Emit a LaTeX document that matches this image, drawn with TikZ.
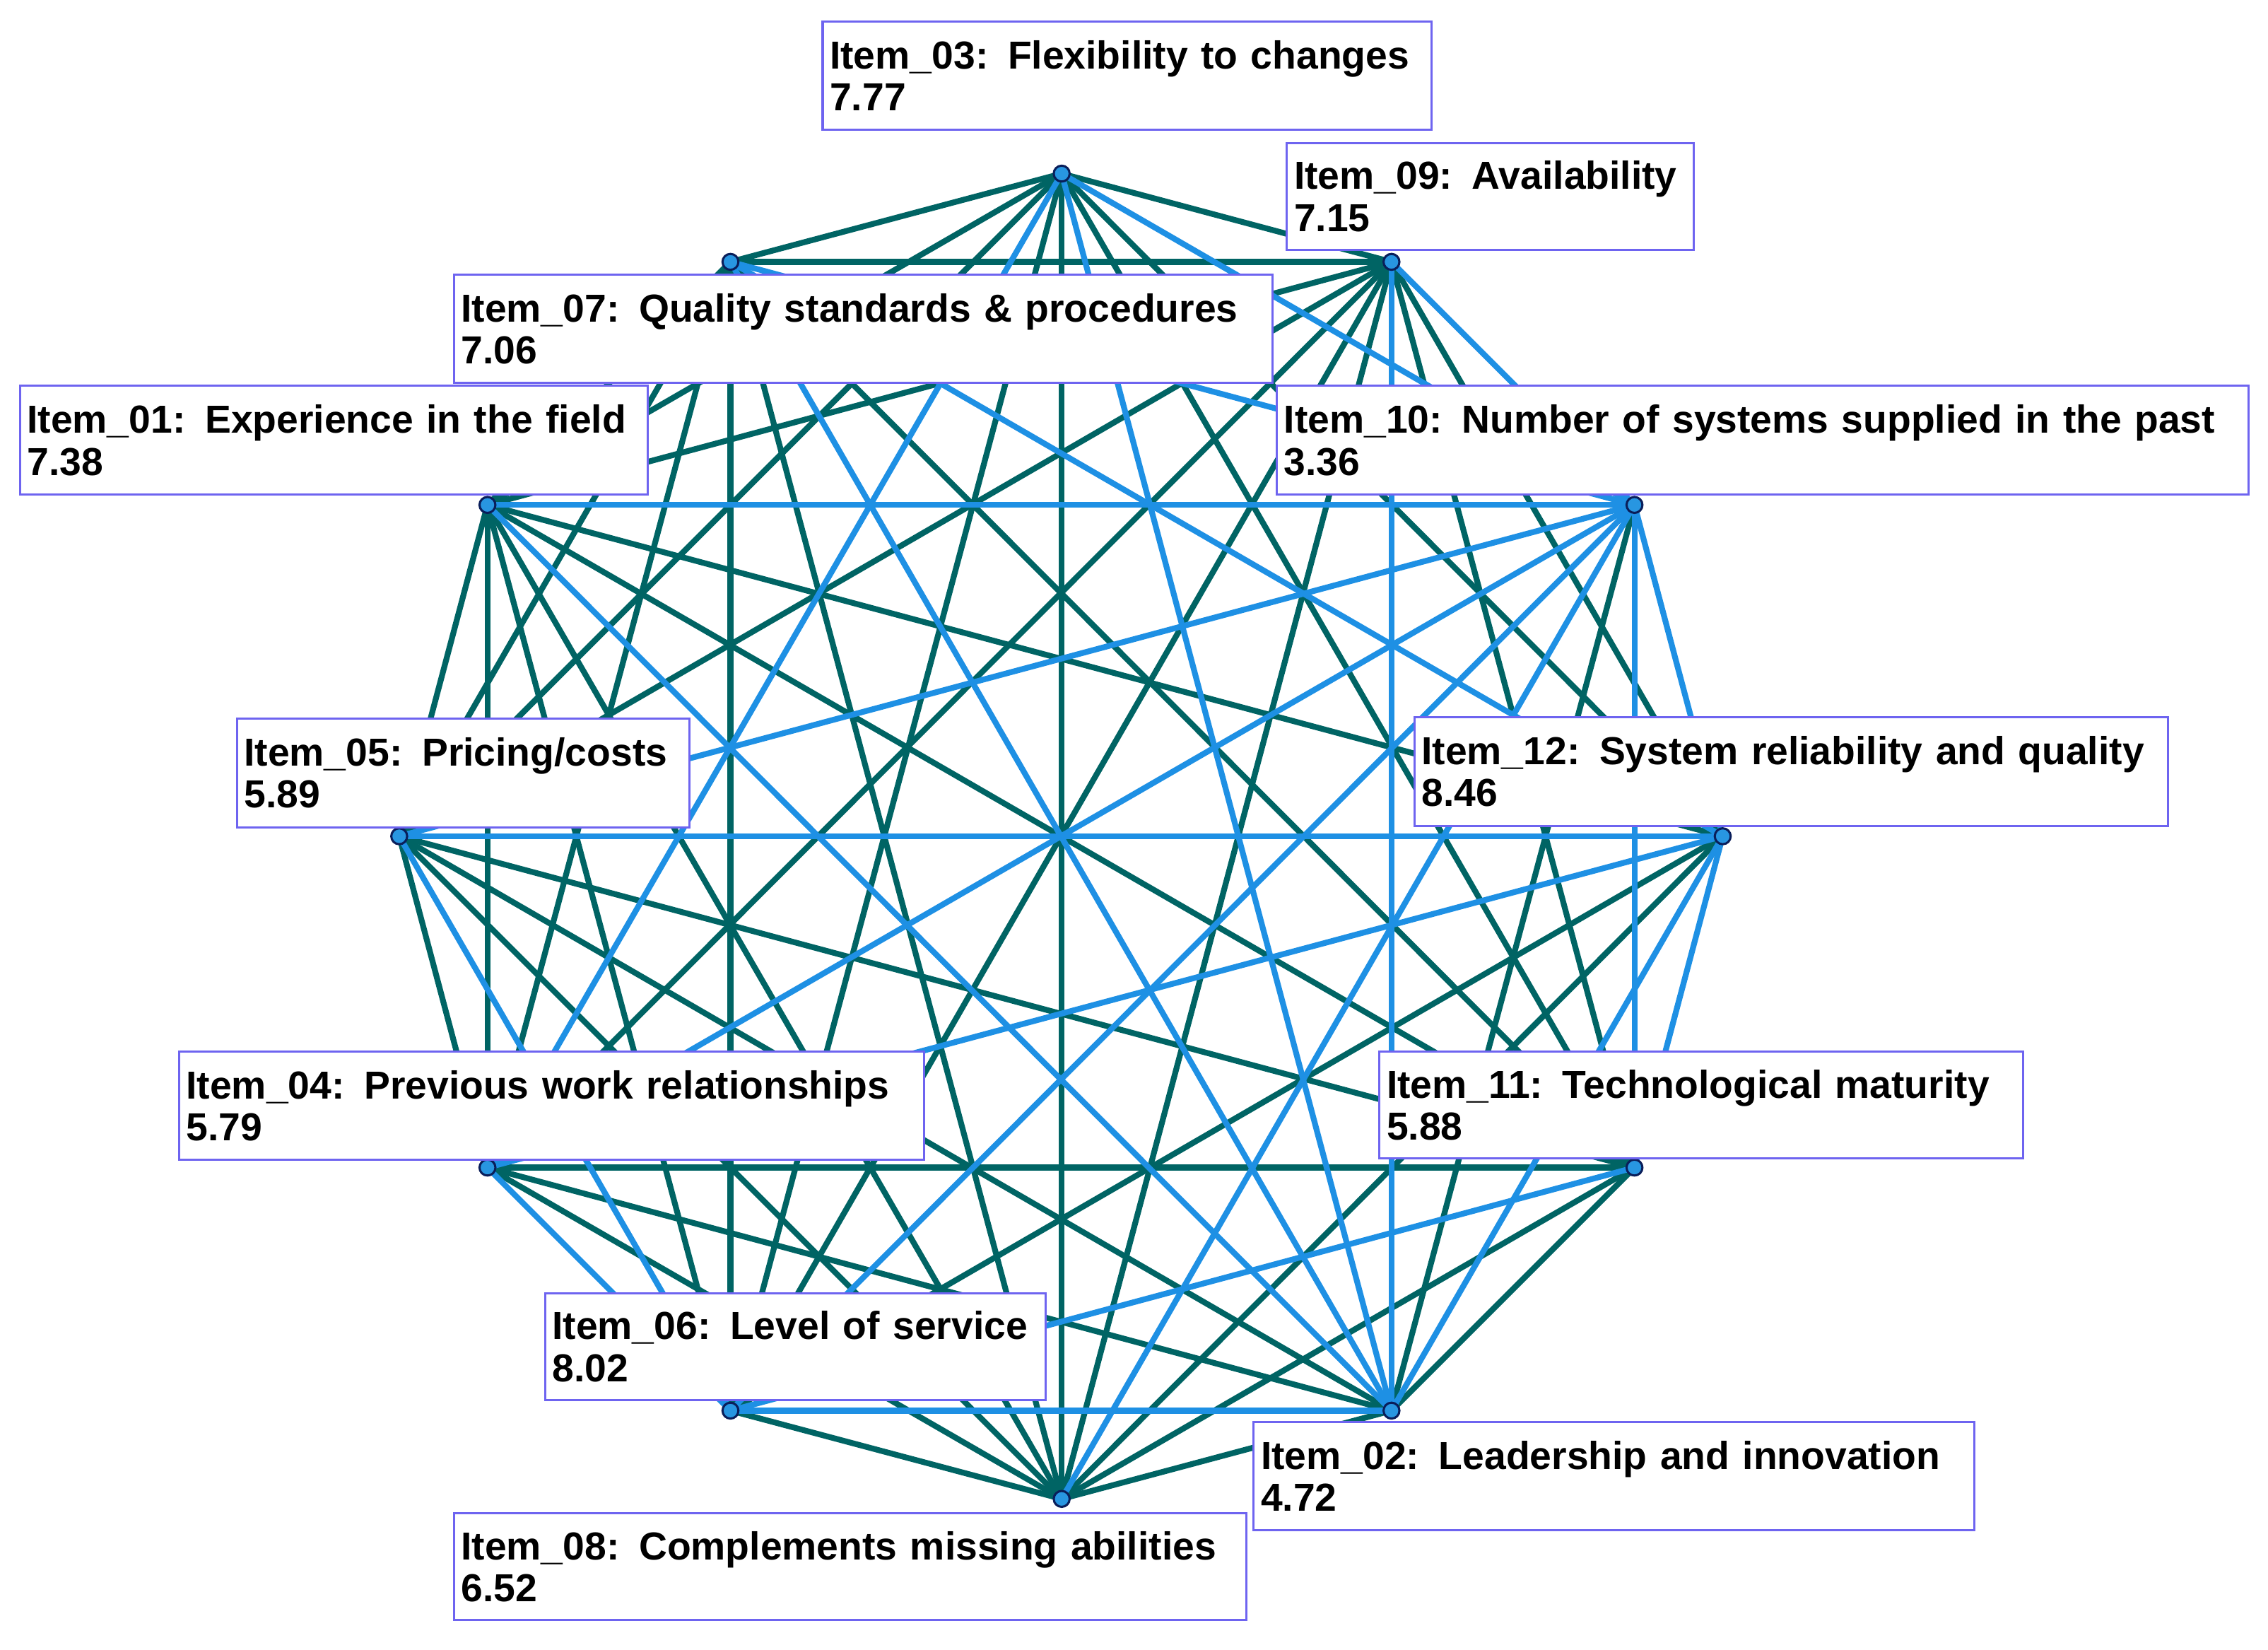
\documentclass[tikz,border=0pt]{standalone}
\usepackage{fontspec}
\setmainfont{Liberation Sans}
\begin{document}
\begin{tikzpicture}[x=1pt,y=-1pt,
  dk/.style={draw={rgb,255:red,0;green,100;blue,100},line width=4pt},
  lt/.style={draw={rgb,255:red,30;green,144;blue,228},line width=4pt},
  dot/.style={circle,fill={rgb,255:red,40;green,150;blue,225},draw={rgb,255:red,10;green,30;blue,90},line width=1.5pt,minimum size=11pt,inner sep=0pt},
  lab/.style={draw={rgb,255:red,110;green,100;blue,240},line width=1.5pt,fill=white,anchor=north west,align=left,inner xsep=5pt,inner ysep=0pt,font=\fontsize{27}{29}\selectfont\bfseries}]
\useasboundingbox (0,0) rectangle (1568,1140);
\fill[white] (0,0) rectangle (1568,1140);
% nodes: 0:03 1:09 2:10 3:12 4:11 5:02 6:08 7:06 8:04 9:05 10:01 11:07
\foreach \i/\x/\y in {0/734/120,1/962/181,2/1130/349,3/1191/578,4/1130/807,5/962/975,6/734/1036,7/505/975,8/337/807,9/276/578,10/337/349,11/505/181}
  \coordinate (c\i) at (\x,\y);
\foreach \a/\b in {0/1,0/3,0/4,0/6,0/7,0/9,0/10,0/11,1/3,1/4,1/6,1/7,1/8,1/9,1/10,1/11,2/5,3/6,3/7,3/10,4/5,4/6,4/8,4/9,4/10,4/11,5/6,5/8,5/9,6/7,6/8,6/9,6/10,6/11,7/10,7/11,8/9,8/10,8/11,9/10,9/11,10/11}
  \draw[dk] (c\a) -- (c\b);
\foreach \a/\b in {0/8,0/5,0/2,1/5,1/2,2/4,2/3,2/6,2/7,2/8,2/9,2/10,2/11,3/4,3/5,3/8,3/9,3/11,4/7,5/7,5/11,5/10,9/7,8/7}
  \draw[lt] (c\a) -- (c\b);
\foreach \i in {0,...,11} \node[dot] (n\i) at (c\i) {};
\node[lab,text width=411pt,minimum height=75pt] (l03) at (568,14) {Item\_03: Flexibility to changes\\7.77};
\node[lab,text width=271pt,minimum height=74pt] (l09) at (889,98) {Item\_09: Availability\\7.15};
\node[lab,text width=556pt,minimum height=75pt] (l07) at (313,189) {Item\_07: Quality standards \& procedures\\7.06};
\node[lab,text width=424pt,minimum height=75pt] (l01) at (13,266) {Item\_01: Experience in the field\\7.38};
\node[lab,text width=662pt,minimum height=75pt] (l10) at (882,266) {Item\_10: Number of systems supplied in the past\\3.36};
\node[lab,text width=303pt,minimum height=75pt] (l05) at (163,496) {Item\_05: Pricing/costs\\5.89};
\node[lab,text width=511pt,minimum height=75pt] (l12) at (977,495) {Item\_12: System reliability and quality\\8.46};
\node[lab,text width=505pt,minimum height=75pt] (l04) at (123,726) {Item\_04: Previous work relationships\\5.79};
\node[lab,text width=435pt,minimum height=74pt] (l11) at (953,726) {Item\_11: Technological maturity\\5.88};
\node[lab,text width=336pt,minimum height=74pt] (l06) at (376,893) {Item\_06: Level of service\\8.02};
\node[lab,text width=488pt,minimum height=75pt] (l02) at (866,982) {Item\_02: Leadership and innovation\\4.72};
\node[lab,text width=538pt,minimum height=74pt] (l08) at (313,1045) {Item\_08: Complements missing abilities\\6.52};
\end{tikzpicture}
\end{document}
